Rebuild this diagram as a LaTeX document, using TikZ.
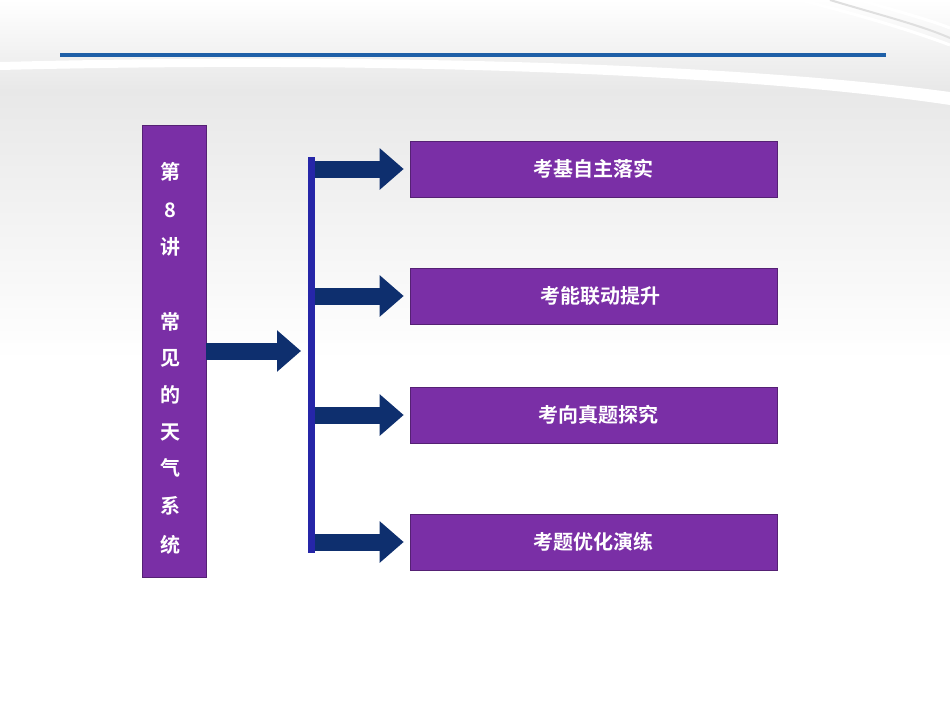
\documentclass[tikz,border=0pt]{standalone}
\usepackage{fontspec}
\newfontfamily\cjk{Noto Sans CJK SC}[BoldFont=Noto Sans CJK SC Bold]
\usetikzlibrary{arrows.meta}
\definecolor{purp}{HTML}{7A2FA6}
\definecolor{navy}{HTML}{0E2F6E}
\definecolor{barb}{HTML}{2626A8}
\definecolor{lineb}{HTML}{1F60A8}
\tikzset{
  box/.style={draw=purp!70!black, line width=0.6pt, fill=purp, text=white, font=\cjk\bfseries\fontsize{20}{24}\selectfont, minimum width=367pt, minimum height=56pt, inner sep=0pt},
  fat/.style={draw=navy, line width=17pt, -{Triangle[width=40pt,length=24pt]}, shorten >=0pt}
}
\begin{document}
\begin{tikzpicture}[x=1pt,y=-1pt]
\useasboundingbox (0,0) rectangle (950,713);
\shade[top color=white, bottom color=gray!18] (0,0) rectangle (950,90);
\shade[top color=gray!18, bottom color=white] (0,90) rectangle (950,360);
\fill[white] (0,360) rectangle (950,713);
% swooshes
\fill[white] (0,70) .. controls (400,60) and (750,75) .. (950,105) -- (950,92) .. controls (750,65) and (400,52) .. (0,62) -- cycle;
\draw[white, line width=3pt] (800,0) .. controls (860,15) and (910,30) .. (950,45);
\draw[white, line width=3pt] (860,0) .. controls (900,12) and (930,20) .. (950,28);
\draw[gray!25, line width=2pt] (830,0) .. controls (880,15) and (920,25) .. (950,38);
\draw[lineb, line width=4pt] (60,55) -- (886,55);
% main box
\node[draw=purp!70!black, fill=purp, minimum width=64pt, minimum height=452pt, inner sep=0pt] (main) at (174,351) {};
\foreach \t/\y in {第/172, 8/210, 讲/247, 常/322, 见/358, 的/395, 天/432, 气/468, 系/506, 统/545}
  \node[text=white, font=\cjk\bfseries\fontsize{20}{24}\selectfont] at (170,\y) {\t};
% bar
\node[fill=barb, minimum width=7pt, minimum height=396pt, inner sep=0pt] (bar) at (311.5,355) {};
% right boxes
\node[box] (b1) at (593.5,169) {考基自主落实};
\node[box] (b2) at (593.5,296) {\hspace{14pt}考能联动提升};
\node[box] (b3) at (593.5,415) {\hspace{10pt}考向真题探究};
\node[box] (b4) at (593.5,542) {考题优化演练};
\coordinate (m0) at (212,351);
\draw[fat] (m0) -- (main.east |- m0) ++(0,0) (m0) -- (301,351);
\foreach \b in {b1,b2,b3,b4}
  \draw[fat] (bar.east |- \b.west) -- ([xshift=-6pt]\b.west);
\end{tikzpicture}
\end{document}
